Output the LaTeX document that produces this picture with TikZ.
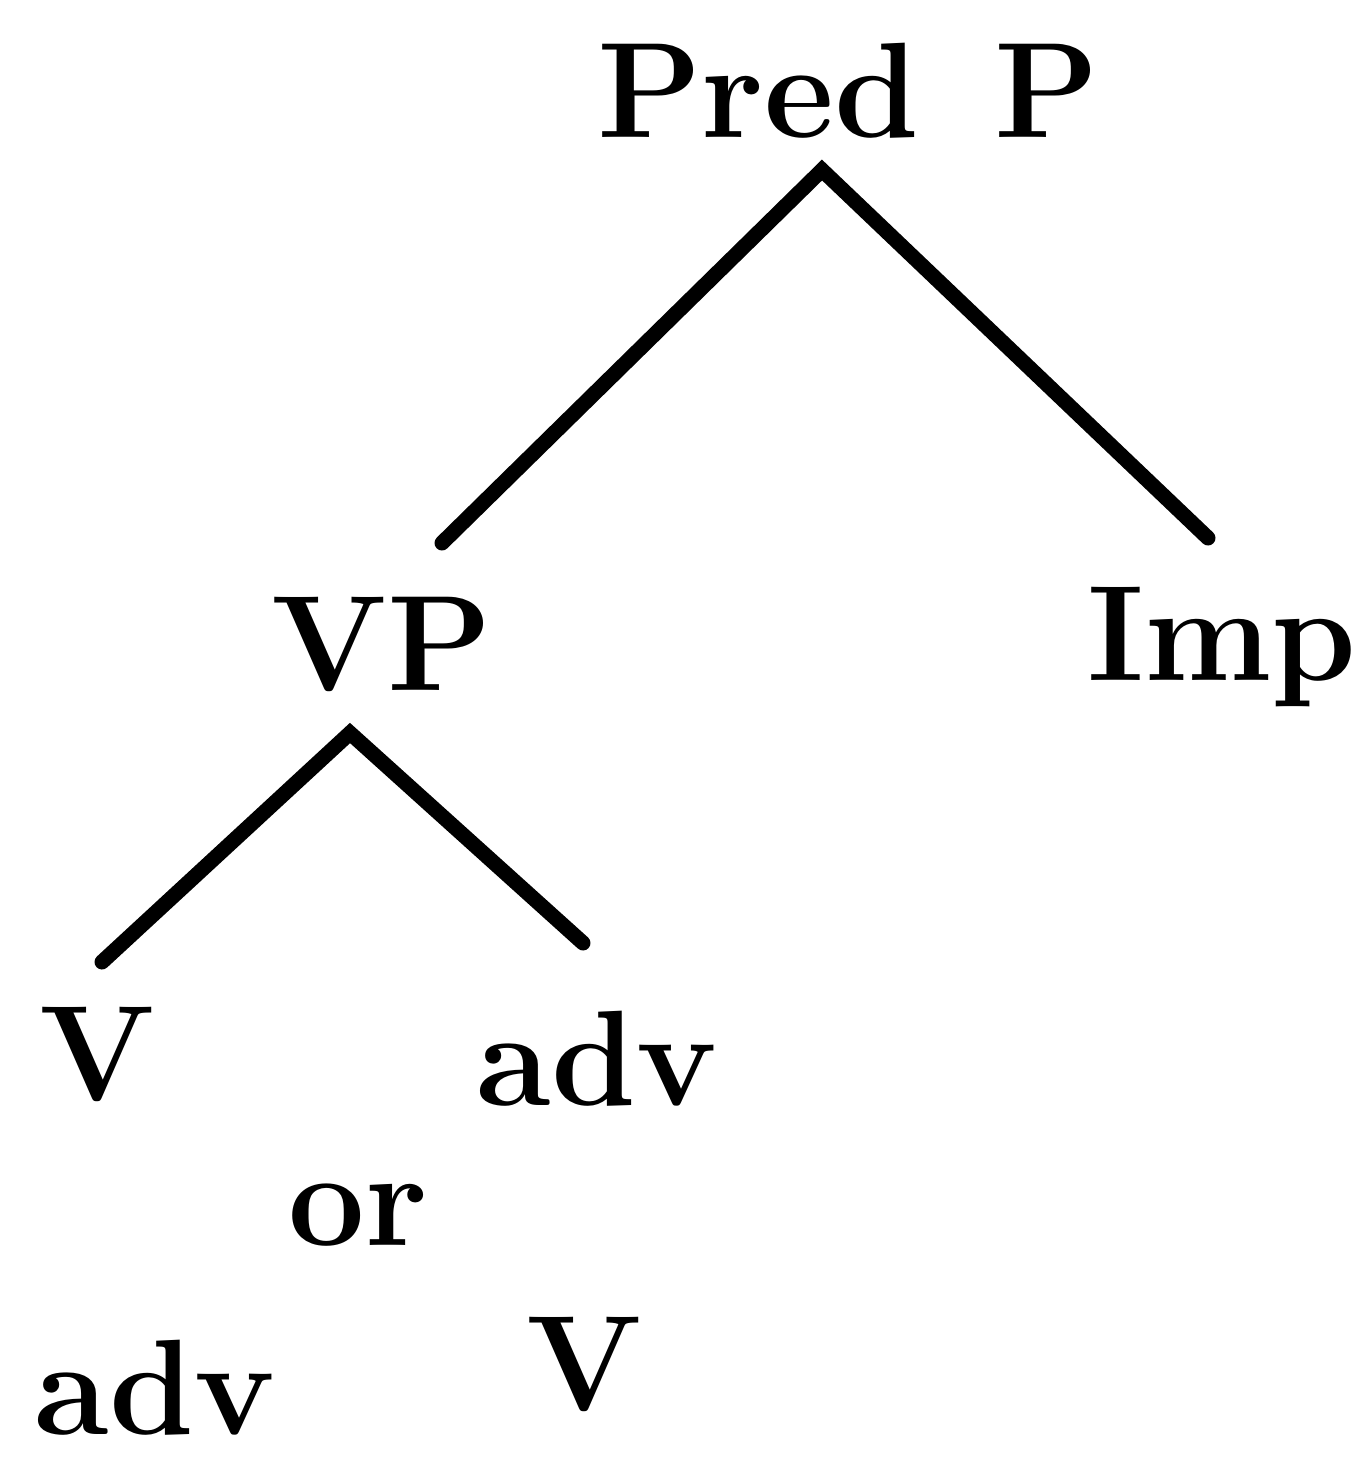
\documentclass[tikz,border=0pt]{standalone}
\begin{document}
\begin{tikzpicture}[x=1pt,y=-1pt,
  lbl/.style={anchor=base,inner sep=0pt,font=\fontsize{136}{140}\selectfont\bfseries},
  branch/.style={line width=15pt,line cap=round,line join=miter}]
\useasboundingbox (0,0) rectangle (1366,1465);
\node[lbl] (pred) at (848,137) {Pred\hspace{0.55em}P};
\node[lbl] (vp) at (382,690) {VP};
\node[lbl] (imp) at (1222,680) {Imp};
\node[lbl] (v1) at (97,1100) {V};
\node[lbl] (adv1) at (597,1105) {adv};
\node[lbl] (or) at (358,1245) {or};
\node[lbl] (adv2) at (155,1434) {adv};
\node[lbl] (v2) at (584,1410) {V};
\coordinate (predapex) at (822,170);
\coordinate (predL) at (442,543);
\coordinate (predR) at (1208,538);
\coordinate (vpapex) at (350,733);
\coordinate (vpL) at (102,962);
\coordinate (vpR) at (583,943);
\draw[branch] (predL) -- (predapex) -- (predR);
\draw[branch] (vpL) -- (vpapex) -- (vpR);
\end{tikzpicture}
\end{document}
